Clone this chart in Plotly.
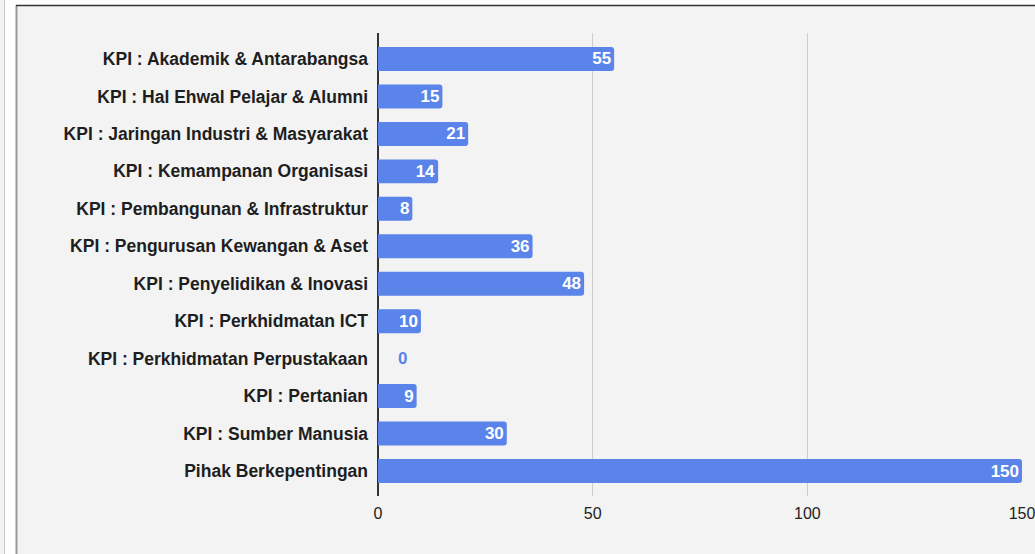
import plotly.graph_objects as go

categories = [
    "KPI : Akademik & Antarabangsa",
    "KPI : Hal Ehwal Pelajar & Alumni",
    "KPI : Jaringan Industri & Masyarakat",
    "KPI : Kemampanan Organisasi",
    "KPI : Pembangunan & Infrastruktur",
    "KPI : Pengurusan Kewangan & Aset",
    "KPI : Penyelidikan & Inovasi",
    "KPI : Perkhidmatan ICT",
    "KPI : Perkhidmatan Perpustakaan",
    "KPI : Pertanian",
    "KPI : Sumber Manusia",
    "Pihak Berkepentingan",
]
values = [55, 15, 21, 14, 8, 36, 48, 10, 0, 9, 30, 150]
x_ticks = [0, 50, 100, 150]

BAR = "#5a84ea"
FONT = "Liberation Sans, Arial"
W, H = 1035, 554
L, R, T, B = 378, 13, 33, 58
pw = W - L - R
ph = H - T - B


def px_x(p):
    return (p - L) / pw


def px_y(p):
    return (H - B - p) / ph


text_pos = ["inside" if v > 0 else "outside" for v in values]
# zero-length bars get their label pushed a little off the axis line
labels = [str(v) if v > 0 else "\u2003" + str(v) for v in values]

fig = go.Figure(
    go.Bar(
        x=values,
        y=categories,
        orientation="h",
        marker=dict(color=BAR, line=dict(width=0), cornerradius=3),
        text=labels,
        textposition=text_pos,
        insidetextanchor="end",
        textfont=dict(family=FONT, size=17, weight="bold"),
        outsidetextfont=dict(family=FONT, size=17, color=BAR, weight="bold"),
        insidetextfont=dict(family=FONT, size=17, color="white", weight="bold"),
        textangle=0,
        constraintext="none",
        cliponaxis=False,
        hoverinfo="skip",
    )
)

shapes = [
    dict(type="rect", xref="paper", yref="paper", x0=px_x(0), x1=px_x(17), y0=px_y(H), y1=px_y(0),
         fillcolor="white", line=dict(width=0), layer="below"),
    dict(type="rect", xref="paper", yref="paper", x0=px_x(0), x1=px_x(W), y0=px_y(5), y1=px_y(0),
         fillcolor="white", line=dict(width=0), layer="below"),
    dict(type="rect", xref="paper", yref="paper", x0=px_x(0), x1=px_x(4), y0=px_y(H), y1=px_y(0),
         fillcolor="#f3f3f3", line=dict(width=0), layer="below"),
    dict(type="line", xref="paper", yref="paper", x0=px_x(4.5), x1=px_x(4.5), y0=px_y(H), y1=px_y(0),
         line=dict(color="#c8c8c8", width=1), layer="below"),
    dict(type="line", xref="paper", yref="paper", x0=px_x(16.5), x1=px_x(16.5), y0=px_y(H), y1=px_y(5),
         line=dict(color="#999999", width=2), layer="below"),
    dict(type="line", xref="paper", yref="paper", x0=px_x(16), x1=px_x(W), y0=px_y(5.5), y1=px_y(5.5),
         line=dict(color="#333333", width=1.5), layer="below"),
]

fig.update_layout(
    width=W,
    height=H,
    autosize=False,
    margin=dict(l=L, r=R, t=T, b=B, pad=0, autoexpand=False),
    paper_bgcolor="#f3f3f3",
    plot_bgcolor="#f3f3f3",
    showlegend=False,
    bargap=0.36,
    shapes=shapes,
    font=dict(family=FONT, color="#222222"),
    xaxis=dict(
        range=[0, 150],
        tickvals=x_ticks,
        ticktext=[str(t) for t in x_ticks],
        showgrid=True,
        gridcolor="#cccccc",
        gridwidth=1,
        zeroline=True,
        zerolinecolor="#333333",
        zerolinewidth=1.5,
        showline=False,
        ticks="",
        automargin=False,
        ticklabeloverflow="allow",
        ticklabelstandoff=6,
        tickfont=dict(size=16, color="#222222"),
        fixedrange=True,
    ),
    yaxis=dict(
        range=[11.667, -0.694],
        showgrid=False,
        zeroline=False,
        showline=False,
        ticks="",
        automargin=False,
        ticklabelstandoff=9,
        tickfont=dict(size=17.5, color="#1e1e1e", weight="bold"),
        fixedrange=True,
    ),
)

fig.write_html(
    "out.html",
    config={"responsive": False, "displayModeBar": False},
    post_script="document.body.style.margin='0';document.body.style.overflow='hidden';",
)
